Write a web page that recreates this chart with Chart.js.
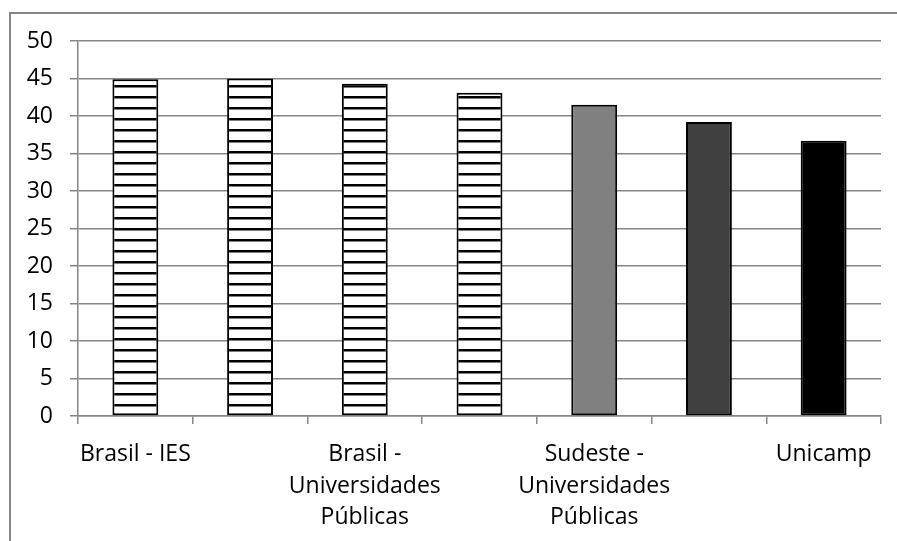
<!DOCTYPE html>
<html>
<head>
<meta charset="utf-8">
<script src="https://cdn.jsdelivr.net/npm/chart.js@4"></script>
<style>
    html, body { margin: 0; padding: 0; background: #fff; overflow: hidden; }
    #frame {
        position: absolute; left: 9px; top: 12px;
        width: 1000px; height: 1000px;
        border: 2px solid #868686;
    }
    #wrap { position: absolute; left: 0; top: 0; width: 897px; height: 541px; }
</style>
</head>
<body>
<div id="frame"></div>
<div id="wrap"><canvas id="chart"></canvas></div>
<script>
// categorias (só as ímpares aparecem no eixo)
const categories = [
    'Brasil - IES',
    '',
    ['Brasil -', 'Universidades', 'Públicas'],
    '',
    ['Sudeste -', 'Universidades', 'Públicas'],
    '',
    'Unicamp'
];
const values = [44.9, 45.0, 44.3, 43.1, 41.5, 39.2, 36.7];
const yTicks = [0, 5, 10, 15, 20, 25, 30, 35, 40, 45, 50];

// padrão listrado horizontal
function stripePattern() {
    const c = document.createElement('canvas');
    c.width = 8;
    c.height = 11;
    const g = c.getContext('2d');
    g.fillStyle = '#fff';
    g.fillRect(0, 0, 8, 11);
    g.fillStyle = '#000';
    g.fillRect(0, 8, 8, 2.5);
    return document.getElementById('chart').getContext('2d').createPattern(c, 'repeat');
}

const stripes = stripePattern();
const fills = [stripes, stripes, stripes, stripes, '#808080', '#404040', '#000000'];
const fontFamily = '"Open Sans", sans-serif';

new Chart(document.getElementById('chart'), {
    type: 'bar',
    data: {
        labels: categories,
        datasets: [{
            data: values,
            backgroundColor: fills,
            borderColor: '#000',
            borderWidth: 2,
            borderSkipped: false,
            barPercentage: 0.4,
            categoryPercentage: 1
        }]
    },
    options: {
        responsive: true,
        maintainAspectRatio: false,
        animation: false,
        layout: { padding: { left: 0, right: 16, top: 41, bottom: 0 } },
        plugins: { legend: { display: false }, tooltip: { enabled: false } },
        scales: {
            x: {
                afterFit: s => { s.height = 125; },
                grid: {
                    offset: true,
                    drawOnChartArea: false,
                    drawTicks: true,
                    tickLength: 8,
                    color: '#868686',
                    lineWidth: 1.5
                },
                border: { color: '#868686', width: 1.5 },
                ticks: {
                    autoSkip: false,
                    maxRotation: 0,
                    padding: 15,
                    color: '#000',
                    font: { family: fontFamily, size: 23, lineHeight: 1.37 }
                }
            },
            y: {
                min: 0,
                max: 50,
                afterFit: s => { s.width = 78; },
                afterBuildTicks: s => { s.ticks = yTicks.map(v => ({ value: v })); },
                grid: {
                    color: '#868686',
                    lineWidth: 1.5,
                    tickLength: 8
                },
                border: { color: '#868686', width: 1.5 },
                ticks: {
                    padding: 17,
                    color: '#000',
                    font: { family: fontFamily, size: 23 }
                }
            }
        }
    }
});
</script>
</body>
</html>
